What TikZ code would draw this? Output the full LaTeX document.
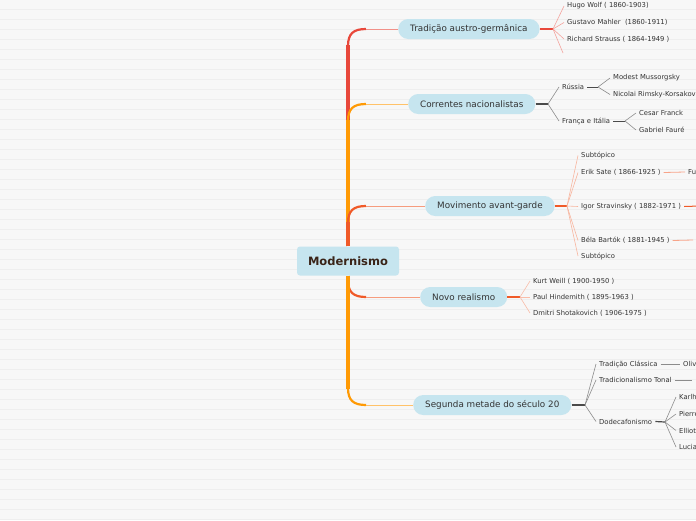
\documentclass[tikz,border=0pt]{standalone}
\usepackage{fontspec}
\setmainfont{DejaVu Sans}
\usetikzlibrary{positioning}

\begin{document}
\begin{tikzpicture}[x=1pt, y=-1pt,
    topic/.style={anchor=west, fill=topicblue, text=ink, rounded corners=10pt,
      minimum height=20pt, inner xsep=12pt, inner ysep=0pt,
      font=\fontsize{8.8}{10}\selectfont},
    leaf/.style={anchor=west, text=ink, inner xsep=3pt, inner ysep=1pt,
      font=\fontsize{6.8}{8}\selectfont},
    fan/.style={line width=0.6pt},
    stem/.style={line width=1.2pt}]
    % --- Paleta ---
    \definecolor{paper}{HTML}{F7F7F7}
    \definecolor{stripe}{HTML}{EEEEEE}
    \definecolor{topicblue}{HTML}{C6E5EF}
    \definecolor{ink}{HTML}{333333}
    \definecolor{rootink}{HTML}{3A2418}
    \definecolor{bRed}{HTML}{E8483B}
    \definecolor{bOrange}{HTML}{FF9A05}
    \definecolor{bCoral}{HTML}{F05A28}
    \definecolor{grayA}{HTML}{4A4A4A}
    \definecolor{grayB}{HTML}{8C8C8C}

    % --- Fondo rayado ---
    \useasboundingbox (0,0) rectangle (696,520);
    \clip (0,0) rectangle (696,520);
    \fill[paper] (0,0) rectangle (696,520);
    \foreach \y in {9.5,19.5,...,519.5} {
        \draw[stripe, line width=1pt] (0,\y) -- (696,\y);
    }

    % --- Nodo central y temas ---
    \node[fill=topicblue, text=rootink, rounded corners=3pt, minimum width=102pt,
      minimum height=29pt, font=\fontsize{11.5}{13}\bfseries] (mod) at (348,261) {Modernismo};
    \node[topic] (t1) at (398,29) {Tradição austro-germânica};
    \node[topic] (t2) at (408,104) {Correntes nacionalistas};
    \node[topic] (t3) at (425,206) {Movimento avant-garde};
    \node[topic] (t4) at (420,297) {Novo realismo};
    \node[topic] (t5) at (413,405) {Segunda metade do século 20};

    % --- Ramas principales ---
    \foreach \n/\ty/\col in {t1/29/bRed, t2/104/bOrange, t3/206/bCoral} {
        \draw[\col, line width=3.6pt] (mod.north) -- (348,\ty+16);
        \draw[\col, line width=2.2pt] (348,\ty+17) .. controls (348,\ty+5) and (353,\ty) .. (366,\ty);
        \draw[\col!60, line width=1pt] (366,\ty) -- (\n.west);
    }
    \foreach \n/\ty/\col in {t4/297/bCoral, t5/405/bOrange} {
        \draw[\col, line width=3.6pt] (mod.south) -- (348,\ty-16);
        \draw[\col, line width=2.2pt] (348,\ty-17) .. controls (348,\ty-5) and (353,\ty) .. (366,\ty);
        \draw[\col!60, line width=1pt] (366,\ty) -- (\n.west);
    }

    % --- Tradição austro-germânica ---
    \coordinate (f1) at (553,29);
    \coordinate (e1) at (563,53);
    \node[leaf] (hugo) at (564,6) {Hugo Wolf ( 1860-1903)};
    \node[leaf] (mahler) at (564,22.5) {Gustavo Mahler\ \ (1860-1911)};
    \node[leaf] (strauss) at (564,39) {Richard Strauss ( 1864-1949 )};
    \draw[bRed, stem] (t1.east) -- (f1);
    \foreach \m in {hugo, mahler, strauss} {
        \draw[bRed!50, fan] (f1) -- (\m.west);
    }
    \draw[bRed!50, fan] (f1) -- (e1);

    % --- Correntes nacionalistas ---
    \coordinate (f2) at (548,104);
    \node[leaf] (russia) at (559,87) {Rússia};
    \node[leaf] (franca) at (559,121) {França e Itália};
    \draw[grayA, stem] (t2.east) -- (f2);
    \draw[grayB, fan] (f2) -- (russia.west);
    \draw[grayB, fan] (f2) -- (franca.west);
    \coordinate (fR) at (598,87);
    \node[leaf] (mussorgsky) at (610,78) {Modest Mussorgsky};
    \node[leaf] (rimsky) at (610,94.5) {Nicolai Rimsky-Korsakov};
    \draw[grayA, line width=0.8pt] (russia.east) -- (fR);
    \draw[grayB, fan] (fR) -- (mussorgsky.west);
    \draw[grayB, fan] (fR) -- (rimsky.west);
    \coordinate (fF) at (625,121);
    \node[leaf] (franck) at (636,113) {Cesar Franck};
    \node[leaf] (faure) at (636,130) {Gabriel Fauré};
    \draw[grayA, line width=0.8pt] (franca.east) -- (fF);
    \draw[grayB, fan] (fF) -- (franck.west);
    \draw[grayB, fan] (fF) -- (faure.west);

    % --- Movimento avant-garde ---
    \coordinate (f3) at (567,206);
    \node[leaf] (sub1) at (578,155.5) {Subtópico};
    \node[leaf] (satie) at (578,172.5) {Erik Sate ( 1866-1925 )};
    \node[leaf] (igor) at (578,206.5) {Igor Stravinsky ( 1882-1971 )};
    \node[leaf] (bartok) at (578,240.5) {Béla Bartók ( 1881-1945 )};
    \node[leaf] (sub2) at (578,256) {Subtópico};
    \draw[bCoral, stem] (t3.east) -- (f3);
    \foreach \m in {sub1, satie, igor, bartok, sub2} {
        \draw[bCoral!45, fan] (f3) -- (\m.west);
    }
    \node[leaf] (fu) at (685,172) {Fu};
    \coordinate (igorkid) at (700,206);
    \coordinate (bartokkid) at (693,240);
    \draw[bCoral!55, line width=0.8pt] (satie.east) -- (fu.west);
    \draw[bCoral, line width=1pt] (igor.east) -- (igorkid);
    \draw[bCoral!55, line width=0.8pt] (bartok.east) -- (bartokkid);

    % --- Novo realismo ---
    \coordinate (f4) at (520,297);
    \node[leaf] (weill) at (530,281) {Kurt Weill ( 1900-1950 )};
    \node[leaf] (hindemith) at (530,297) {Paul Hindemith ( 1895-1963 )};
    \node[leaf] (shosta) at (530,313) {Dmitri Shotakovich ( 1906-1975 )};
    \draw[bCoral, stem] (t4.east) -- (f4);
    \foreach \m in {weill, hindemith, shosta} {
        \draw[bCoral!40, fan] (f4) -- (\m.west);
    }

    % --- Segunda metade do século 20 ---
    \coordinate (f5) at (585,405);
    \node[leaf] (classica) at (596,364) {Tradição Clássica};
    \node[leaf] (tonal) at (596,380) {Tradicionalismo Tonal};
    \node[leaf] (dodeca) at (596,421.5) {Dodecafonismo};
    \draw[grayA, stem] (t5.east) -- (f5);
    \foreach \m in {classica, tonal, dodeca} {
        \draw[grayB, fan] (f5) -- (\m.west);
    }
    \node[leaf] (oliv) at (680,364) {Oliv};
    \coordinate (tonalkid) at (692,380);
    \draw[grayB, line width=0.8pt] (classica.east) -- (oliv.west);
    \draw[grayB, line width=0.8pt] (tonal.east) -- (tonalkid);
    \coordinate (fD) at (665,422);
    \node[leaf] (karl) at (676,397) {Karlh};
    \node[leaf] (pierre) at (676,414) {Pierre};
    \node[leaf] (elliott) at (676,430.5) {Elliott};
    \node[leaf] (luciano) at (676,447) {Lucia};
    \draw[grayA, stem] (dodeca.east) -- (fD);
    \foreach \m in {karl, pierre, elliott, luciano} {
        \draw[grayB, fan] (fD) -- (\m.west);
    }
\end{tikzpicture}
\end{document}
